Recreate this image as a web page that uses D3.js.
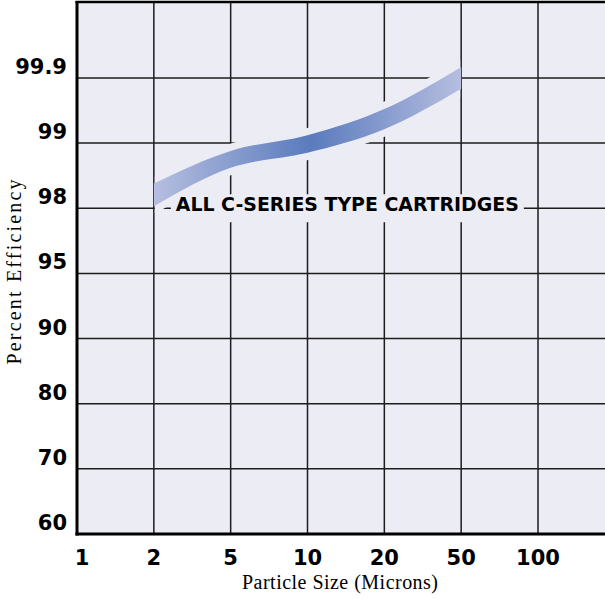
<!DOCTYPE html>
<html>
<head>
<meta charset="utf-8">
<script src="https://cdn.jsdelivr.net/npm/d3@7"></script>
<style>
  html, body { margin: 0; padding: 0; background: #fff; }
  svg { display: block; }
</style>
</head>
<body>
<div id="chart"></div>
<script>
// particle sizes (microns), equally spaced categories
var sizes = ["1", "2", "5", "10", "20", "50", "100"];
// efficiency gridlines (probability-style axis)
var effTicks = [60, 70, 80, 90, 95, 98, 99, 99.9];
var effTop = 99.99; // unlabeled top edge of plot

// band for all C-series cartridges (lower / upper efficiency)
var bandSizes = ["2", "5", "10", "20", "50"];
var bandLower = [98.03, 98.62, 98.85, 99.19, 99.75];
var bandUpper = [98.38, 98.88, 99.11, 99.47, 99.913];

var W = 605, H = 599;
var plotL = 77, plotB = 534, plotT = 2, plotR = 605;
var step = 65.15;

var svg = d3.select("#chart").append("svg")
    .attr("width", W)
    .attr("height", H);

var x = d3.scalePoint()
    .domain(sizes)
    .range([plotL, 538]);

var yDomain = effTicks.concat([effTop]);
var yRange = effTicks.map(function (d, i) { return plotB - i * step; }).concat([plotT]);
var y = d3.scaleLinear().domain(yDomain).range(yRange);

var bg = "#ececf5";

// plot background
svg.append("rect")
    .attr("x", plotL).attr("y", plotT)
    .attr("width", plotR - plotL).attr("height", plotB - plotT)
    .attr("fill", bg);

// gridlines
var grid = svg.append("g").attr("stroke", "#1c1c1c").attr("stroke-width", 1.5);
grid.selectAll("line.v")
    .data(sizes.slice(1)).enter()
    .append("line")
    .attr("x1", function (d) { return x(d); })
    .attr("x2", function (d) { return x(d); })
    .attr("y1", plotT).attr("y2", plotB);
grid.selectAll("line.h")
    .data(effTicks.slice(1)).enter()
    .append("line")
    .attr("x1", plotL).attr("x2", plotR)
    .attr("y1", function (d) { return y(d); })
    .attr("y2", function (d) { return y(d); });

// annotation background
var ax = x("2") + 22, ay = y(98) + 3;
svg.append("rect")
    .attr("x", ax - 5).attr("y", ay - 17)
    .attr("width", 353).attr("height", 28)
    .attr("fill", bg);

// band
var bandData = bandSizes.map(function (s, i) {
    return { s: s, lo: bandLower[i], hi: bandUpper[i] };
});
var area = d3.area()
    .x(function (d) { return x(d.s); })
    .y0(function (d) { return y(d.lo); })
    .y1(function (d) { return y(d.hi); })
    .curve(d3.curveMonotoneX);

var defs = svg.append("defs");
var grad = defs.append("linearGradient")
    .attr("id", "bandGrad")
    .attr("gradientUnits", "userSpaceOnUse")
    .attr("x1", x("2")).attr("x2", x("50"))
    .attr("y1", 0).attr("y2", 0);
grad.append("stop").attr("offset", "0%").attr("stop-color", "#b6bee0");
grad.append("stop").attr("offset", "51%").attr("stop-color", "#5a7bbd");
grad.append("stop").attr("offset", "100%").attr("stop-color", "#b6bee0");

defs.append("clipPath").attr("id", "haloClip")
    .append("rect")
    .attr("x", x("2") + 1).attr("y", plotT)
    .attr("width", x("50") - x("2") - 2).attr("height", plotB - plotT);

// halo that breaks the gridlines around the band
svg.append("path")
    .datum(bandData)
    .attr("d", area)
    .attr("clip-path", "url(#haloClip)")
    .attr("fill", bg)
    .attr("stroke", bg)
    .attr("stroke-width", 14)
    .attr("stroke-linejoin", "round");
svg.append("path")
    .datum(bandData)
    .attr("d", area)
    .attr("fill", "url(#bandGrad)");

// annotation
svg.append("text")
    .attr("x", ax).attr("y", ay)
    .attr("font-family", "DejaVu Sans")
    .attr("font-weight", "bold")
    .attr("font-size", 20)
    .attr("textLength", 343)
    .attr("lengthAdjust", "spacingAndGlyphs")
    .attr("fill", "#000")
    .text("ALL C-SERIES TYPE CARTRIDGES");

// borders
var border = svg.append("g").attr("stroke", "#000").attr("fill", "none");
border.append("line").attr("x1", plotL).attr("x2", plotL)
    .attr("y1", plotT - 1).attr("y2", plotB + 1.5).attr("stroke-width", 3);
border.append("line").attr("x1", plotL - 1.5).attr("x2", plotR)
    .attr("y1", plotB).attr("y2", plotB).attr("stroke-width", 3);
border.append("line").attr("x1", plotL - 1.5).attr("x2", plotR)
    .attr("y1", plotT).attr("y2", plotT).attr("stroke-width", 2.5);

// y tick labels
svg.append("g").selectAll("text")
    .data(effTicks).enter()
    .append("text")
    .attr("x", 67)
    .attr("y", function (d) { return y(d) - 4; })
    .attr("text-anchor", "end")
    .attr("font-family", "DejaVu Sans")
    .attr("font-weight", "bold")
    .attr("font-size", 21)
    .text(function (d) { return d; });

// x tick labels
svg.append("g").selectAll("text")
    .data(sizes).enter()
    .append("text")
    .attr("x", function (d, i) { return x(d) + (i === 0 ? 5 : 0); })
    .attr("y", 565)
    .attr("text-anchor", "middle")
    .attr("font-family", "DejaVu Sans")
    .attr("font-weight", "bold")
    .attr("font-size", 21)
    .text(function (d) { return d; });

// axis titles
svg.append("text")
    .attr("x", 340).attr("y", 589)
    .attr("text-anchor", "middle")
    .attr("font-family", "Liberation Serif")
    .attr("font-size", 20)
    .attr("textLength", 196)
    .text("Particle Size (Microns)");
svg.append("text")
    .attr("transform", "translate(21,272) rotate(-90)")
    .attr("text-anchor", "middle")
    .attr("font-family", "Liberation Serif")
    .attr("font-size", 20)
    .attr("textLength", 185)
    .text("Percent Efficiency");
</script>
</body>
</html>
